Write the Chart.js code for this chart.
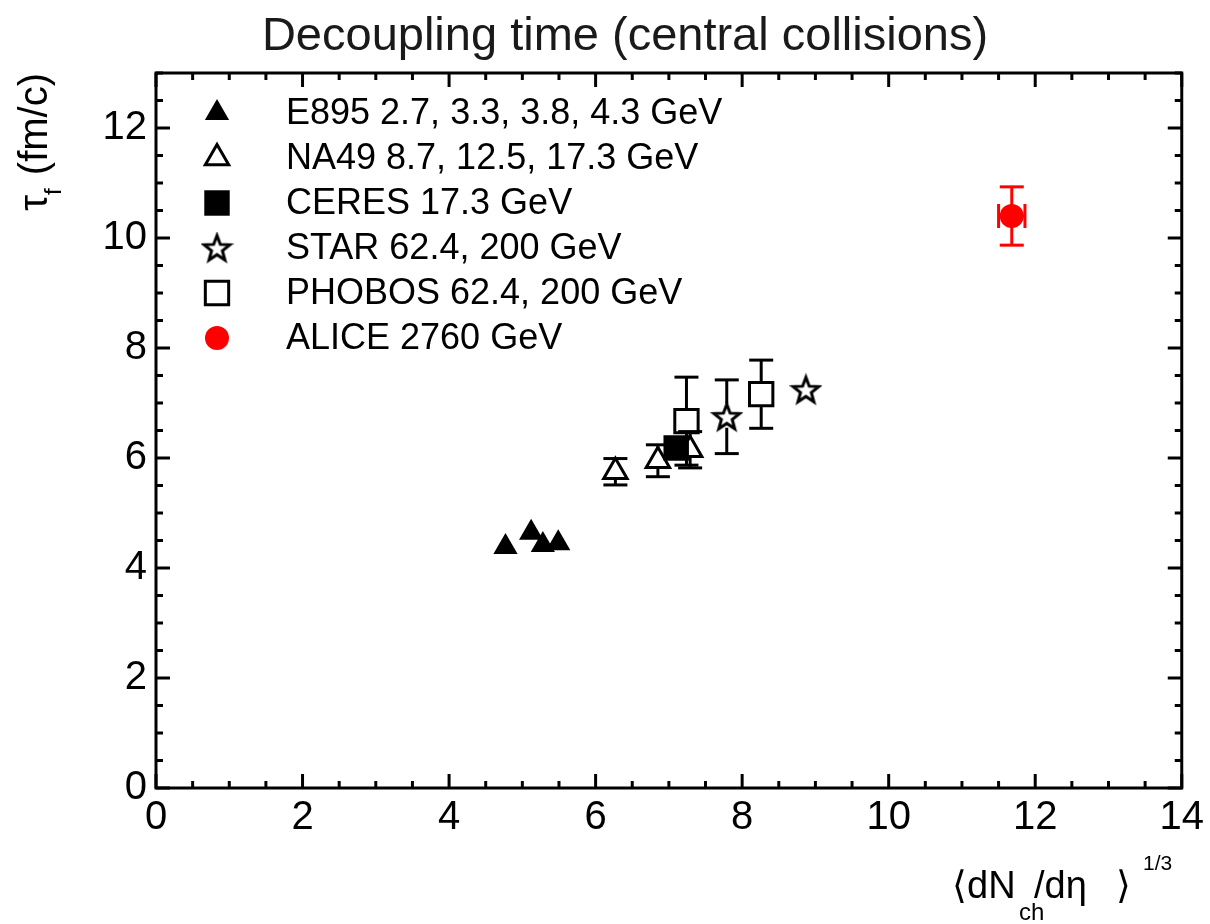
<!DOCTYPE html>
<html>
<head>
<meta charset="utf-8">
<script src="https://cdn.jsdelivr.net/npm/chart.js@4.4.0/dist/chart.umd.min.js"></script>
<style>
  html, body { margin: 0; padding: 0; background: #fff; }
  #wrap { width: 1210px; height: 924px; }
</style>
</head>
<body>
<div id="wrap"><canvas id="c" width="1210" height="924"></canvas></div>
<script>
// axis tick labels
const xTicks = [0, 2, 4, 6, 8, 10, 12, 14];
const yTicks = [0, 2, 4, 6, 8, 10, 12];

// E895 2.7, 3.3, 3.8, 4.3 GeV
const e895X = [4.77, 5.12, 5.28, 5.49];
const e895Y = [4.38, 4.64, 4.42, 4.45];

// NA49 8.7, 12.5, 17.3 GeV
const na49X = [6.27, 6.85, 7.29];
const na49Y = [5.75, 5.95, 6.15];
const na49Err = [0.24, 0.29, 0.33];

// CERES 17.3 GeV
const ceresX = [7.10];
const ceresY = [6.18];

// STAR 62.4, 200 GeV
const starX = [7.79, 8.87];
const starY = [6.75, 7.24];
const starErr = [0.67, 0];

// PHOBOS 62.4, 200 GeV
const phobosX = [7.24, 8.26];
const phobosY = [6.67, 7.16];
const phobosErr = [0.80, 0.62];

// ALICE 2760 GeV
const aliceX = [11.68];
const aliceY = [10.40];
const aliceErrY = [0.53];
const aliceErrX = [0.18];

const FONT = "'Liberation Sans', Arial, Helvetica, sans-serif";

function pts(xs, ys) {
  return xs.map((x, i) => ({ x: x, y: ys[i] }));
}

// open five-point star marker
function starMarker(size, lw) {
  const c = document.createElement('canvas');
  c.width = size; c.height = size;
  const g = c.getContext('2d');
  const cx = size / 2, cy = size / 2 + 1;
  const R = size / 2 - lw, r = R * 0.42;
  g.beginPath();
  for (let i = 0; i < 10; i++) {
    const a = -Math.PI / 2 + i * Math.PI / 5;
    const rr = i % 2 ? r : R;
    g.lineTo(cx + rr * Math.cos(a), cy + rr * Math.sin(a));
  }
  g.closePath();
  g.fillStyle = '#fff';
  g.fill();
  g.lineWidth = lw;
  g.lineJoin = 'miter';
  g.strokeStyle = '#000';
  g.stroke();
  return c;
}
const star = starMarker(33, 3);

const datasets = [
  { label: 'E895 2.7, 3.3, 3.8, 4.3 GeV', data: pts(e895X, e895Y),
    pointStyle: 'triangle', pointRadius: 14, backgroundColor: '#000', borderColor: '#000', borderWidth: 0, order: 6 },
  { label: 'NA49 8.7, 12.5, 17.3 GeV', data: pts(na49X, na49Y),
    pointStyle: 'triangle', pointRadius: 13.5, backgroundColor: 'rgba(0,0,0,0)', borderColor: '#000', borderWidth: 3, order: 5,
    yErr: na49Err, errGap: [13, 6], errColor: '#000' },
  { label: 'CERES 17.3 GeV', data: pts(ceresX, ceresY),
    pointStyle: 'rect', pointRadius: 18, backgroundColor: '#000', borderColor: '#000', borderWidth: 0, order: 4 },
  { label: 'STAR 62.4, 200 GeV', data: pts(starX, starY),
    pointStyle: star, pointRadius: 15, backgroundColor: '#000', borderColor: '#000', borderWidth: 0, order: 3,
    yErr: starErr, errGap: [13, 11], errColor: '#000' },
  { label: 'PHOBOS 62.4, 200 GeV', data: pts(phobosX, phobosY),
    pointStyle: 'rect', pointRadius: 16.5, backgroundColor: 'rgba(0,0,0,0)', borderColor: '#000', borderWidth: 3, order: 2,
    yErr: phobosErr, errGap: [11, 11], errColor: '#000' },
  { label: 'ALICE 2760 GeV', data: pts(aliceX, aliceY),
    pointStyle: 'circle', pointRadius: 12, backgroundColor: '#ff0000', borderColor: '#ff0000', borderWidth: 0, order: 1,
    yErr: aliceErrY, xErr: aliceErrX, errGap: [0, 0], errColor: '#ff0000' }
];

function seg(ctx, x1, y1, x2, y2) {
  ctx.beginPath();
  ctx.moveTo(x1, y1);
  ctx.lineTo(x2, y2);
  ctx.stroke();
}

// error bars, drawn through the scales
const errorBars = {
  id: 'errorBars',
  beforeDatasetsDraw(chart) {
    const ctx = chart.ctx;
    const xs = chart.scales.x, ys = chart.scales.y;
    const cap = 12;
    chart.data.datasets.forEach(ds => {
      if (!ds.yErr && !ds.xErr) return;
      ctx.save();
      ctx.strokeStyle = ds.errColor;
      ctx.lineWidth = 3;
      ds.data.forEach((p, i) => {
        const px = xs.getPixelForValue(p.x), py = ys.getPixelForValue(p.y);
        const ey = ds.yErr ? ds.yErr[i] : 0;
        if (ey > 0) {
          const top = ys.getPixelForValue(p.y + ey), bot = ys.getPixelForValue(p.y - ey);
          seg(ctx, px, top, px, py - ds.errGap[0]);
          seg(ctx, px, py + ds.errGap[1], px, bot);
          seg(ctx, px - cap, top, px + cap, top);
          seg(ctx, px - cap, bot, px + cap, bot);
        }
        const ex = ds.xErr ? ds.xErr[i] : 0;
        if (ex > 0) {
          const l = xs.getPixelForValue(p.x - ex), r = xs.getPixelForValue(p.x + ex);
          seg(ctx, l, py, r, py);
          seg(ctx, l, py - cap, l, py + cap);
          seg(ctx, r, py - cap, r, py + cap);
        }
      });
      ctx.restore();
    });
  }
};

// ROOT style frame with inward ticks on all four sides
const frame = {
  id: 'frame',
  afterDatasetsDraw(chart) {
    const ctx = chart.ctx;
    const a = chart.chartArea;
    const xs = chart.scales.x, ys = chart.scales.y;
    ctx.save();
    ctx.strokeStyle = '#000';
    ctx.lineWidth = 3;
    ctx.strokeRect(a.left, a.top, a.right - a.left, a.bottom - a.top);
    for (let v = xs.min; v <= xs.max + 1e-9; v += 0.5) {
      const len = Math.abs(v % 2) < 1e-9 ? 14 : 7;
      const px = xs.getPixelForValue(v);
      seg(ctx, px, a.bottom, px, a.bottom - len);
      seg(ctx, px, a.top, px, a.top + len);
    }
    for (let v = ys.min; v <= ys.max + 1e-9; v += 0.5) {
      const len = Math.abs(v % 2) < 1e-9 ? 14 : 7;
      const py = ys.getPixelForValue(v);
      seg(ctx, a.left, py, a.left + len, py);
      seg(ctx, a.right, py, a.right - len, py);
    }
    ctx.restore();
  }
};

// in-frame legend, title and axis titles
const texts = {
  id: 'texts',
  afterDraw(chart) {
    const ctx = chart.ctx;
    ctx.save();

    // legend
    chart.data.datasets.forEach((ds, i) => {
      const ly = 113 + 45 * i;
      ctx.fillStyle = ds.backgroundColor;
      ctx.strokeStyle = ds.borderColor;
      ctx.lineWidth = ds.borderWidth;
      Chart.helpers.drawPoint(ctx, {
        pointStyle: ds.pointStyle, radius: ds.pointRadius, rotation: 0, borderWidth: ds.borderWidth
      }, 217, ly);
      ctx.fillStyle = '#000';
      ctx.font = '36px ' + FONT;
      ctx.textAlign = 'left';
      ctx.textBaseline = 'middle';
      ctx.fillText(ds.label, 286, ly + 1);
    });

    // title
    ctx.fillStyle = '#1a1a1a';
    ctx.font = '47px ' + FONT;
    ctx.textAlign = 'center';
    ctx.textBaseline = 'alphabetic';
    ctx.fillText('Decoupling time (central collisions)', 625, 50);

    // y title: tau_f (fm/c), rotated, ending at the top of the frame
    ctx.fillStyle = '#000';
    ctx.save();
    ctx.translate(47, 73);
    ctx.rotate(-Math.PI / 2);
    ctx.textAlign = 'left';
    ctx.font = '40px ' + FONT;
    const wRest = ctx.measureText(' (fm/c)').width;
    const wTau = ctx.measureText('τ').width;
    ctx.font = '24px ' + FONT;
    const wF = ctx.measureText('f').width + 2;
    let u = -(wTau + wF + wRest);
    ctx.font = '40px ' + FONT;
    ctx.fillText('τ', u, 0);
    u += wTau;
    ctx.font = '24px ' + FONT;
    ctx.fillText('f', u, 14);
    u += wF;
    ctx.font = '40px ' + FONT;
    ctx.fillText(' (fm/c)', u, 0);
    ctx.restore();

    // x title: <dN_ch/deta>^(1/3), right aligned
    ctx.textAlign = 'left';
    ctx.font = '38px ' + FONT;
    ctx.fillText('⟨dN', 952, 898);
    ctx.font = '24px ' + FONT;
    ctx.fillText('ch', 1019, 920);
    ctx.font = '38px ' + FONT;
    ctx.fillText('/dη', 1034, 898);
    ctx.fillText('⟩', 1116, 898);
    ctx.font = '21px ' + FONT;
    ctx.fillText('1/3', 1143, 870);

    ctx.restore();
  }
};

new Chart(document.getElementById('c'), {
  type: 'scatter',
  data: { datasets: datasets },
  options: {
    responsive: false,
    devicePixelRatio: 1,
    animation: false,
    events: [],
    layout: { padding: { top: 73, right: 26, left: 0, bottom: 0 } },
    plugins: {
      legend: { display: false },
      tooltip: { enabled: false },
      title: { display: false }
    },
    scales: {
      x: {
        type: 'linear', min: 0, max: 14,
        afterBuildTicks: s => { s.ticks = xTicks.map(v => ({ value: v })); },
        afterFit: s => { s.height = 136; },
        grid: { display: false, drawTicks: false },
        border: { display: false },
        ticks: { color: '#000', font: { family: FONT, size: 40 }, padding: 6, maxRotation: 0, autoSkip: false }
      },
      y: {
        type: 'linear', min: 0, max: 13,
        afterBuildTicks: s => { s.ticks = yTicks.map(v => ({ value: v })); },
        afterFit: s => { s.width = 156; },
        grid: { display: false, drawTicks: false },
        border: { display: false },
        ticks: { color: '#000', font: { family: FONT, size: 40 }, padding: 9, autoSkip: false }
      }
    }
  },
  plugins: [errorBars, frame, texts]
});
</script>
</body>
</html>
